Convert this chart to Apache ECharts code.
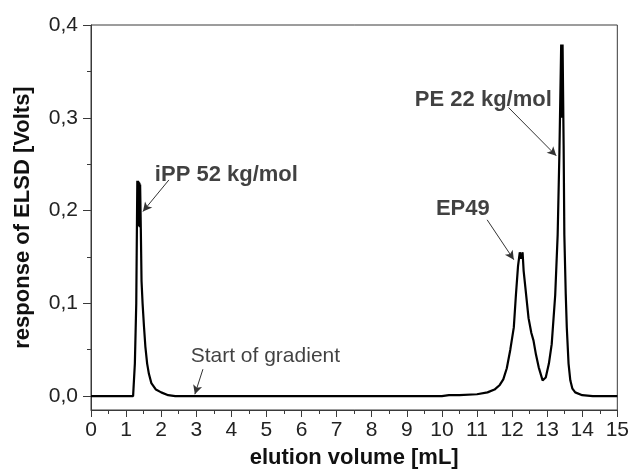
<!DOCTYPE html>
<html>
<head>
<meta charset="utf-8">
<script src="https://cdn.jsdelivr.net/npm/echarts@6/dist/echarts.min.js"></script>
<style>html,body{margin:0;padding:0;background:#fff}#c{width:632px;height:474px}</style>
</head>
<body>
<div id="c"></div>
<script>
// elution volume [mL]
var volume = [0,1.2,1.24,1.25,1.29,1.32,1.33,1.34,1.35,1.36,1.37,1.38,1.39,1.40,1.42,1.44,1.47,1.51,1.55,1.60,1.65,1.72,1.85,2.0,2.2,2.4,3,5,8,10,10.2,10.5,11,11.3,11.5,11.65,11.75,11.85,11.95,12.05,12.11,12.17,12.22,12.26,12.30,12.33,12.38,12.47,12.55,12.61,12.68,12.76,12.87,12.92,12.96,13.05,13.13,13.23,13.30,13.35,13.40,13.42,13.44,13.47,13.49,13.53,13.56,13.61,13.66,13.72,13.80,14.0,14.3,15];
// response of ELSD [Volts]
var response = [0,0,0,0.035,0.1,0.232,0.186,0.232,0.184,0.231,0.183,0.23,0.182,0.228,0.18,0.124,0.10,0.075,0.053,0.035,0.024,0.014,0.007,0.004,0.001,0,0,0,0,0,0.001,0.001,0.002,0.004,0.007,0.012,0.018,0.03,0.05,0.074,0.109,0.14,0.155,0.148,0.155,0.135,0.117,0.084,0.068,0.06,0.045,0.031,0.017,0.015,0.02,0.035,0.056,0.109,0.174,0.263,0.379,0.30,0.379,0.27,0.174,0.11,0.074,0.035,0.017,0.008,0.004,0.001,0,0];

var xTicks = [0,1,2,3,4,5,6,7,8,9,10,11,12,13,14,15];
var yTicks = [0,0.1,0.2,0.3,0.4];
var yMinorTicks = [0.05,0.15,0.25,0.35];

var noteTexts = ['iPP 52 kg/mol','EP49','PE 22 kg/mol','Start of gradient'];
var noteBold = [true,true,true,false];
var notePos = [[1.82,0.2385],[9.83,0.2016],[9.23,0.319],[2.84,0.0428]];
var arrowFrom = [[2.22,0.233],[11.29,0.19],[11.9,0.311],[3.19,0.029]];
var arrowTo = [[1.48,0.199],[12.05,0.147],[13.26,0.259],[2.96,0.002]];

var FONT = 'Liberation Sans, Arial, sans-serif';
var chart = echarts.init(document.getElementById('c'), null, {renderer:'canvas'});
var line = volume.map(function(v,i){return [v,response[i]];});
var notes = noteTexts.map(function(t,i){
  return {value: notePos[i], label:{formatter:t, fontWeight: noteBold[i]?'bold':'normal', fontSize: noteBold[i]?22:21}};
});
var arrows = arrowFrom.map(function(f,i){
  return [{coord:f, symbol:'none'},{coord:arrowTo[i], symbol:'arrow'}];
});
var axisCol = '#3a3a3a';
chart.setOption({
  animation:false,
  backgroundColor:'#fff',
  grid:{left:91,right:13,top:25,bottom:61,show:true,borderColor:axisCol,borderWidth:1,containLabel:false},
  xAxis:{type:'value',min:0,max:15,interval:1,
    name:'elution volume [mL]',nameLocation:'middle',nameGap:37,
    nameTextStyle:{fontFamily:FONT,fontWeight:'bold',fontSize:22,color:'#111'},
    axisLine:{show:true,onZero:false,lineStyle:{color:axisCol,width:1}},
    axisTick:{show:true,inside:false,length:7,lineStyle:{color:axisCol}},
    minorTick:{show:true,splitNumber:2,length:4,lineStyle:{color:axisCol}},
    axisLabel:{fontFamily:FONT,fontSize:21,color:'#222',margin:10,showMaxLabel:true},
    splitLine:{show:false}},
  yAxis:[{type:'value',min:-0.015,max:0.4,position:'left',
    name:'response of ELSD [Volts]',nameLocation:'middle',nameGap:57,nameRotate:90,
    nameTextStyle:{fontFamily:FONT,fontWeight:'bold',fontSize:22,color:'#111'},
    axisLine:{show:true,onZero:false,lineStyle:{color:axisCol,width:1}},
    axisTick:{show:true,inside:false,length:8,customValues:yTicks,lineStyle:{color:axisCol}},
    axisLabel:{fontFamily:FONT,fontSize:21,color:'#222',margin:13,customValues:yTicks,
      formatter:function(v){return v.toFixed(1).replace('.',',');}},
    splitLine:{show:false}},
   {type:'value',min:-0.015,max:0.4,position:'left',offset:0,
    axisLine:{show:false},
    axisTick:{show:true,inside:false,length:4,customValues:yMinorTicks,lineStyle:{color:axisCol}},
    axisLabel:{show:false},splitLine:{show:false}}],
  series:[
    {type:'line',data:line,showSymbol:false,symbol:'none',smooth:false,
     lineStyle:{color:'#000',width:2.2},
     markLine:{silent:true,symbolSize:[7,9],animation:false,
       lineStyle:{color:'#333',width:1,type:'solid'},label:{show:false},data:arrows}},
    {type:'scatter',data:notes,symbolSize:0,silent:true,
     label:{show:true,position:'right',distance:0,fontFamily:FONT,fontSize:22,color:'#111'}}
  ]
});
</script>
</body>
</html>
